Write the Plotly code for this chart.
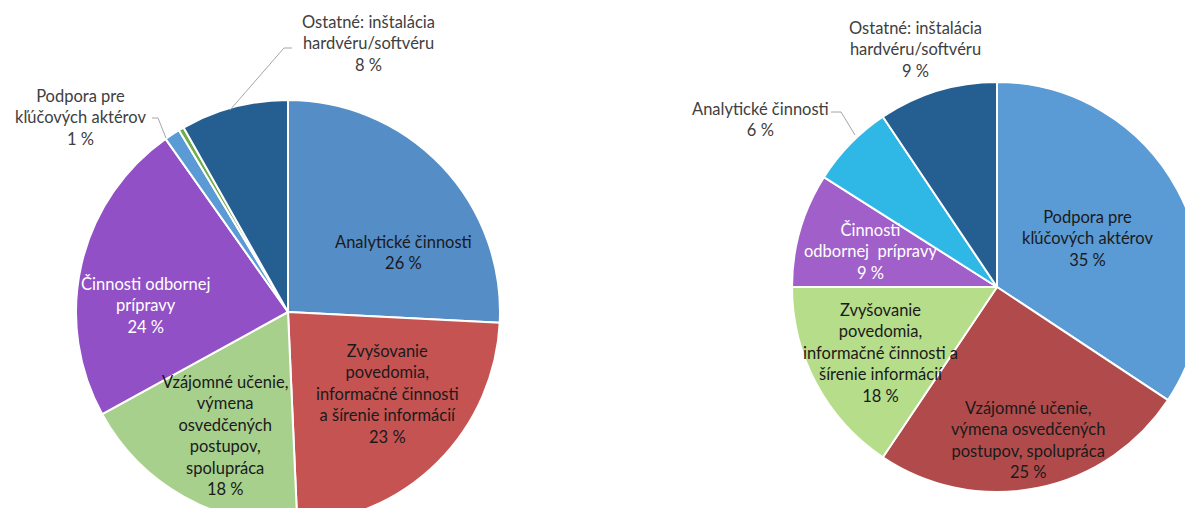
import plotly.graph_objects as go

# canvas a little larger than the 1185x508 view: the reference crops both pies
W, H = 1205, 525

# ---------------- data ----------------
left_labels = [
    "Analytické činnosti",
    "Zvyšovanie povedomia, informačné činnosti a šírenie informácií",
    "Vzájomné učenie, výmena osvedčených postupov, spolupráca",
    "Činnosti odbornej prípravy",
    "Podpora pre kľúčových aktérov",
    "Iné",
    "Ostatné: inštalácia hardvéru/softvéru",
]
left_values = [25.8, 23.5, 17.7, 23.2, 1.2, 0.4, 8.2]
left_pct = ["26 %", "23 %", "18 %", "24 %", "1 %", "", "8 %"]
left_text = [
    "Analytické činnosti",
    "Zvyšovanie<br>povedomia,<br>informačné činnosti<br>a šírenie informácií",
    "Vzájomné učenie,<br>výmena<br>osvedčených<br>postupov,<br>spolupráca",
    "Činnosti odbornej<br>prípravy",
    "Podpora pre<br>kľúčových aktérov",
    "",
    "Ostatné: inštalácia<br>hardvéru/softvéru",
]

right_labels = [
    "Podpora pre kľúčových aktérov",
    "Vzájomné učenie, výmena osvedčených postupov, spolupráca",
    "Zvyšovanie povedomia, informačné činnosti a šírenie informácií",
    "Činnosti odbornej prípravy",
    "Analytické činnosti",
    "Ostatné: inštalácia hardvéru/softvéru",
]
right_values = [34.3, 25.1, 15.6, 9.0, 6.6, 9.4]
right_pct = ["35 %", "25 %", "18 %", "9 %", "6 %", "9 %"]
right_text = [
    "Podpora pre<br>kľúčových aktérov",
    "Vzájomné učenie,<br>výmena osvedčených<br>postupov, spolupráca",
    "Zvyšovanie<br>povedomia,<br>informačné činnosti a<br>šírenie informácií",
    "Činnosti<br>odbornej  prípravy",
    "Analytické činnosti",
    "Ostatné: inštalácia<br>hardvéru/softvéru",
]

# ---------------- styles ----------------
left_colors = ["#558DC6", "#C55352", "#A8D08D", "#9150C6", "#5B9BD5", "#70AD47", "#255E91"]
right_colors = ["#5B9BD5", "#B14B4B", "#B6DD8A", "#A05FC9", "#2FB7E6", "#255E91"]
left_txtcol = ["#1A1A1A", "#1A1A1A", "#1A1A1A", "#FFFFFF", "#404040", "#404040", "#404040"]
right_txtcol = ["#1A1A1A", "#1A1A1A", "#1A1A1A", "#FFFFFF", "#404040", "#404040"]
# label block centres in pixels (x, y from top)
left_pos = [(403, 252), (387, 394), (225, 435), (145, 305), (80, 118), None, (368, 44)]
right_pos = [(1087, 238), (1028, 440), (880, 353), (870, 251), (760, 119), (915, 49)]
FONT = "Lato"
FSIZE = 16.5


def px(x):
    return x / W


def py(y):
    return 1 - y / H


def domain(cx, cy, r):
    return dict(x=[px(cx - r), px(cx + r)], y=[py(cy + r), py(cy - r)])


fig = go.Figure()
fig.add_trace(go.Pie(
    labels=left_labels, values=left_values, sort=False, direction="clockwise",
    rotation=0, textinfo="none", hoverinfo="label+percent",
    marker=dict(colors=left_colors, line=dict(color="white", width=2)),
    domain=domain(288, 312, 212), showlegend=False,
))
fig.add_trace(go.Pie(
    labels=right_labels, values=right_values, sort=False, direction="clockwise",
    rotation=0, textinfo="none", hoverinfo="label+percent",
    marker=dict(colors=right_colors, line=dict(color="white", width=2)),
    domain=domain(997, 287, 205), showlegend=False,
))

annotations = []
for texts, pcts, cols, pos in [(left_text, left_pct, left_txtcol, left_pos),
                               (right_text, right_pct, right_txtcol, right_pos)]:
    for t, p, c, ps in zip(texts, pcts, cols, pos):
        if ps is None:
            continue
        annotations.append(dict(
            x=px(ps[0]), y=py(ps[1]), xref="paper", yref="paper",
            text=f"{t}<br>{p}", showarrow=False, align="center",
            xanchor="center", yanchor="middle",
            font=dict(family=FONT, size=FSIZE, color=c),
        ))

leaders = [
    [(230, 110), (284, 48), (292, 48)],
    [(166, 138), (158, 118), (152, 118)],
    [(855, 135), (841, 112), (831, 112)],
]
shapes = []
for pts in leaders:
    for (x0, y0), (x1, y1) in zip(pts[:-1], pts[1:]):
        shapes.append(dict(type="line", xref="paper", yref="paper",
                           x0=px(x0), y0=py(y0), x1=px(x1), y1=py(y1),
                           line=dict(color="#A6A6A6", width=1)))

fig.update_layout(
    width=W, height=H, margin=dict(l=0, r=0, t=0, b=0),
    paper_bgcolor="white", plot_bgcolor="white",
    annotations=annotations, shapes=shapes,
    font=dict(family=FONT, size=FSIZE),
)
fig.write_html("out.html", config={"displayModeBar": False},
               post_script="document.body.style.margin='0';document.body.style.overflow='hidden';")
